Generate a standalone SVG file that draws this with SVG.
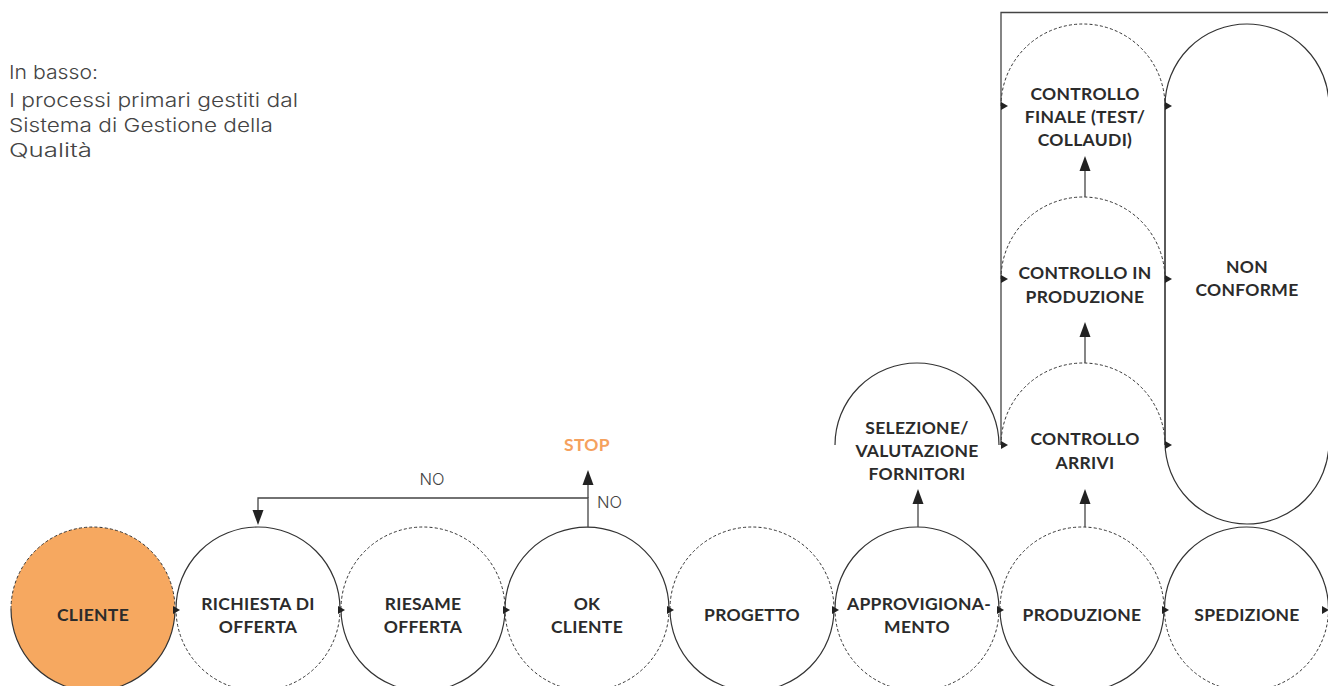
<svg xmlns="http://www.w3.org/2000/svg" width="1328" height="686" viewBox="0 0 1328 686">
<defs>
<style>
.s{fill:none;stroke:#333;stroke-width:1.2}
.d{fill:none;stroke:#333;stroke-width:1;stroke-dasharray:3 2.2}
.c{fill:none;stroke:#444;stroke-width:1.3}
.ah{fill:#222}
.lbl{font-family:"Lato","Liberation Sans",sans-serif;font-weight:700;font-size:17.5px;letter-spacing:0.3px;fill:#2b2b2b;text-anchor:middle}
.note{font-family:"Inter","Open Sans","Liberation Sans",sans-serif;font-weight:300;font-size:19px;fill:#444}
.no{font-family:"Inter","Open Sans","Liberation Sans",sans-serif;font-weight:300;font-size:16.5px;fill:#444}
</style>
<path id="sa" d="M-3,-4 L4,0 L-3,4 Z"/>
<path id="ua" d="M0,0 L5.5,15 L-5.5,15 Z"/>
</defs>
<g id="note">
<text class="note" x="9" y="79" textLength="89" lengthAdjust="spacingAndGlyphs">In basso:</text>
<text class="note" x="9" y="107" textLength="289" lengthAdjust="spacingAndGlyphs">I processi primari gestiti dal</text>
<text class="note" x="9" y="132" textLength="264" lengthAdjust="spacingAndGlyphs">Sistema di Gestione della</text>
<text class="note" x="9" y="157" textLength="83" lengthAdjust="spacingAndGlyphs">Qualità</text>
</g>
<g id="cliente">
<circle cx="93" cy="609" r="82" fill="#F6A860"/>
<path class="d" d="M11,609 A82,82 0 0 1 175,609"/>
<path class="s" d="M175,609 A82,82 0 0 1 11,609"/>
<text class="lbl" x="93" y="620.5">CLIENTE</text>
</g>
<g id="richiesta">
<path class="s" d="M176,609 A82,82 0 0 1 340,609"/>
<path class="d" d="M340,609 A82,82 0 0 1 176,609"/>
<text class="lbl" x="258" y="609.5">RICHIESTA DI</text>
<text class="lbl" x="258" y="632.5">OFFERTA</text>
</g>
<g id="riesame">
<path class="d" d="M341,609 A82,82 0 0 1 505,609"/>
<path class="s" d="M505,609 A82,82 0 0 1 341,609"/>
<text class="lbl" x="423" y="609.5">RIESAME</text>
<text class="lbl" x="423" y="632.5">OFFERTA</text>
</g>
<g id="okcliente">
<path class="s" d="M505,609 A82,82 0 0 1 669,609"/>
<path class="d" d="M669,609 A82,82 0 0 1 505,609"/>
<text class="lbl" x="587" y="609.5">OK</text>
<text class="lbl" x="587" y="632.5">CLIENTE</text>
</g>
<g id="progetto">
<path class="d" d="M670,609 A82,82 0 0 1 834,609"/>
<path class="s" d="M834,609 A82,82 0 0 1 670,609"/>
<text class="lbl" x="752" y="620.5">PROGETTO</text>
</g>
<g id="approvvigionamento">
<path class="s" d="M835,609 A82,82 0 0 1 999,609"/>
<path class="d" d="M999,609 A82,82 0 0 1 835,609"/>
<text class="lbl" x="919" y="609.5">APPROVIGIONA-</text>
<text class="lbl" x="917" y="632.5">MENTO</text>
</g>
<g id="produzione">
<path class="d" d="M1000,609 A82,82 0 0 1 1164,609"/>
<path class="s" d="M1164,609 A82,82 0 0 1 1000,609"/>
<text class="lbl" x="1082" y="620.5">PRODUZIONE</text>
</g>
<g id="spedizione">
<path class="s" d="M1164.5,609 A82,82 0 0 1 1328.5,609"/>
<path class="d" d="M1328.5,609 A82,82 0 0 1 1164.5,609"/>
<text class="lbl" x="1247" y="620.5">SPEDIZIONE</text>
</g>
<g id="selezione">
<path class="s" d="M835,445 A82,82 0 0 1 999,445"/>
<text class="lbl" x="917" y="433.5">SELEZIONE/</text>
<text class="lbl" x="917" y="456.5">VALUTAZIONE</text>
<text class="lbl" x="917" y="479.5">FORNITORI</text>
</g>
<g id="controllo-arrivi">
<path class="d" d="M1001,445 A82,82 0 0 1 1165,445"/>
<text class="lbl" x="1085" y="444.5">CONTROLLO</text>
<text class="lbl" x="1085" y="468.5">ARRIVI</text>
</g>
<g id="controllo-produzione">
<path class="d" d="M1001,279 A82,82 0 0 1 1165,279"/>
<text class="lbl" x="1085" y="278.5">CONTROLLO IN</text>
<text class="lbl" x="1085" y="302.5">PRODUZIONE</text>
</g>
<g id="controllo-finale">
<path class="d" d="M1001,106 A82,82 0 0 1 1165,106"/>
<text class="lbl" x="1085" y="99.5">CONTROLLO</text>
<text class="lbl" x="1085" y="122.5">FINALE (TEST/</text>
<text class="lbl" x="1085" y="145.5">COLLAUDI)</text>
</g>
<g id="non-conforme">
<path class="s" d="M1165,106 A82,82 0 0 1 1329,106 L1329,442 A82,82 0 0 1 1165,442 Z"/>
<text class="lbl" x="1247" y="272.5">NON</text>
<text class="lbl" x="1247" y="295.5">CONFORME</text>
</g>
<g id="stop">
<text class="lbl" x="587" y="450.5" style="fill:#F5A15E">STOP</text>
</g>
<g id="connectors">
<path class="c" d="M588,527 V498 H258 V512"/>
<path class="c" d="M588,498 V482"/>
<use href="#ua" class="ah" x="588" y="470"/>
<use href="#ua" class="ah" transform="translate(258,525) rotate(180)"/>
<text class="no" x="432" y="485" text-anchor="middle">NO</text>
<text class="no" x="597" y="508">NO</text>
<path class="c" d="M918,527 V502"/>
<use href="#ua" class="ah" x="918" y="489"/>
<path class="c" d="M1085,527 V502"/>
<use href="#ua" class="ah" x="1085" y="489"/>
<path class="c" d="M1085,363 V335"/>
<use href="#ua" class="ah" x="1085" y="322"/>
<path class="c" d="M1085,197 V169"/>
<use href="#ua" class="ah" x="1085" y="156"/>
<path class="c" d="M1001,445 V12.5 H1328"/>
<path class="c" d="M1165,98 V445"/>
<use href="#sa" class="ah" x="176" y="610"/>
<use href="#sa" class="ah" x="341" y="610"/>
<use href="#sa" class="ah" x="506" y="610"/>
<use href="#sa" class="ah" x="670" y="610"/>
<use href="#sa" class="ah" x="835" y="610"/>
<use href="#sa" class="ah" x="1000" y="610"/>
<use href="#sa" class="ah" x="1165" y="610"/>
<use href="#sa" class="ah" x="1325" y="610"/>
<use href="#sa" class="ah" x="1004" y="106"/>
<use href="#sa" class="ah" x="1004" y="279"/>
<use href="#sa" class="ah" x="1004" y="445"/>
<use href="#sa" class="ah" x="1168" y="106"/>
<use href="#sa" class="ah" x="1168" y="279"/>
<use href="#sa" class="ah" x="1168" y="445"/>
</g>
</svg>
